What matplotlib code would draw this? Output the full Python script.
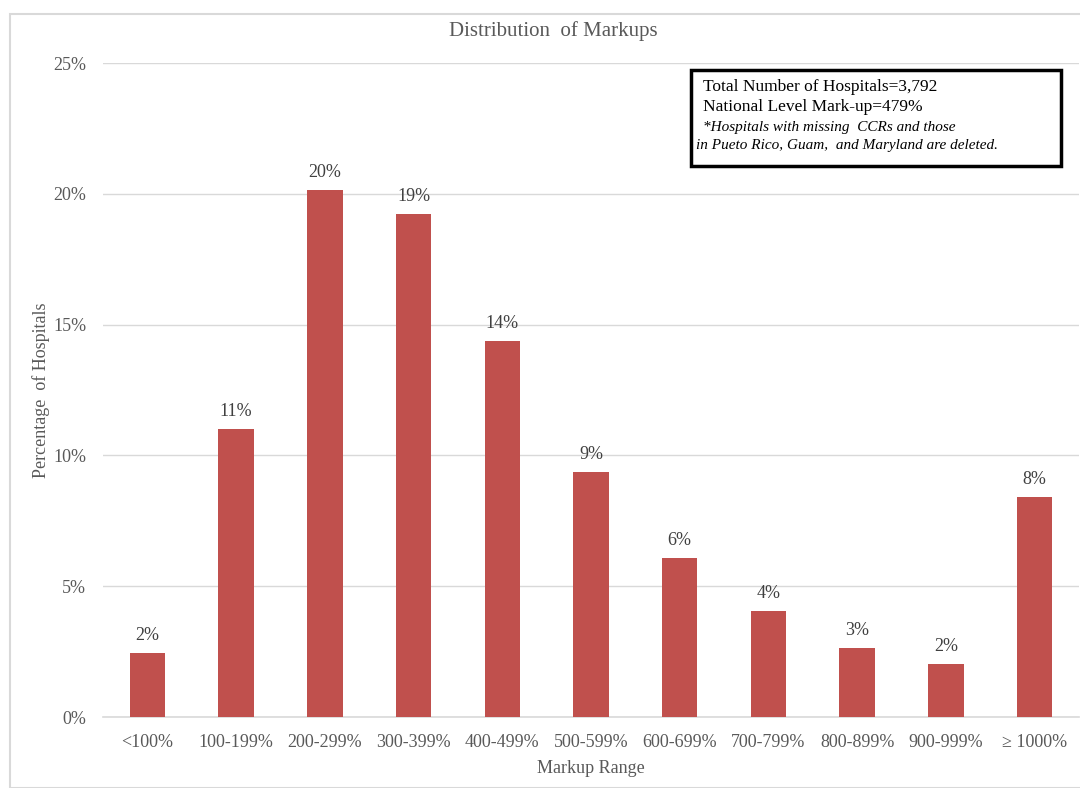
import matplotlib
matplotlib.use("Agg")
import matplotlib.pyplot as plt
from matplotlib.patches import Rectangle
from matplotlib.ticker import FuncFormatter, MultipleLocator

categories = ["<100%", "100-199%", "200-299%", "300-399%", "400-499%", "500-599%",
              "600-699%", "700-799%", "800-899%", "900-999%", "\u2265 1000%"]
values = [2.45, 11.01, 20.15, 19.23, 14.37, 9.37, 6.08, 4.05, 2.64, 2.03, 8.41]
bar_labels = ["2%", "11%", "20%", "19%", "14%", "9%", "6%", "4%", "3%", "2%", "8%"]

plt.rcParams['font.family'] = ['Liberation Serif', 'DejaVu Serif']
gray = "#595959"

fig = plt.figure(figsize=(10.8, 7.88), dpi=100)
# outer chart frame
fig.patches.append(Rectangle((10/1080, 0), 1.2, 1 - 14/788, transform=fig.transFigure,
                             fill=False, edgecolor="#d9d9d9", linewidth=1.5))

ax = fig.add_axes([103/1080, 1 - 717/788, (1079 - 103)/1080, (717 - 63)/788])
x = list(range(len(categories)))
ax.bar(x, values, width=0.4, color="#C0504D", zorder=3)
for xi, v, lab in zip(x, values, bar_labels):
    ax.text(xi, v + 0.35, lab, ha="center", va="bottom", fontsize=13, color="#404040")

ax.set_xlim(-0.5, len(categories) - 0.5)
ax.set_ylim(0, 25)
ax.yaxis.set_major_locator(MultipleLocator(5))
ax.yaxis.set_major_formatter(FuncFormatter(lambda v, p: f"{v:.0f}%"))
ax.grid(axis="y", color="#d9d9d9", linewidth=1, zorder=0)
for s in ["top", "right", "left"]:
    ax.spines[s].set_visible(False)
ax.spines["bottom"].set_color("#d9d9d9")
ax.spines["bottom"].set_linewidth(1.2)
ax.set_xticks(x)
ax.set_xticklabels(categories)
ax.tick_params(axis="both", length=0, labelsize=13, labelcolor=gray, pad=12)
ax.set_xlabel("Markup Range", fontsize=13, color=gray, labelpad=7)
ax.set_ylabel("Percentage  of Hospitals", fontsize=13, color=gray, labelpad=2)

fig.text(553/1080, 1 - 31/788, "Distribution  of Markups", ha="center", va="center",
         fontsize=15, color=gray)

# annotation box
fig.patches.append(Rectangle((691/1080, 1 - 166/788), 370/1080, 96/788, transform=fig.transFigure,
                             fill=False, edgecolor="black", linewidth=2.5))
fig.text(703/1080, 1 - 87/788, "Total Number of Hospitals=3,792", fontsize=12.5, va="center", color="black")
fig.text(703/1080, 1 - 107/788, "National Level Mark-up=479%", fontsize=12.5, va="center", color="black")
fig.text(703/1080, 1 - 127/788, "*Hospitals with missing  CCRs and those", fontsize=11,
         style="italic", va="center", color="black")
fig.text(696/1080, 1 - 146/788, "in Pueto Rico, Guam,  and Maryland are deleted.", fontsize=11,
         style="italic", va="center", color="black")

fig.savefig("out.png", dpi=100)
